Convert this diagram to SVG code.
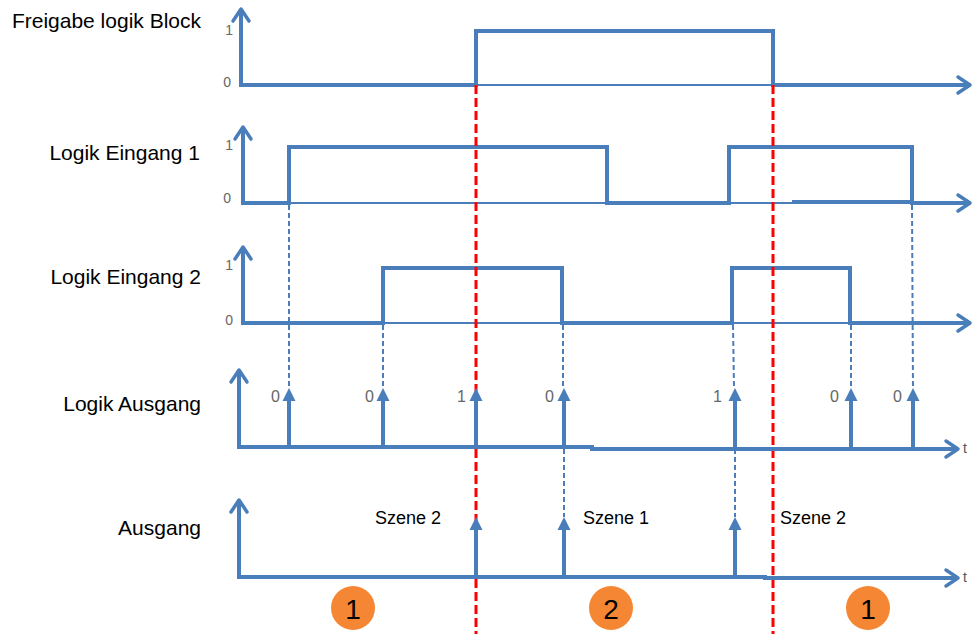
<svg xmlns="http://www.w3.org/2000/svg" width="973" height="634" viewBox="0 0 973 634">
<style>
  .lbl { font-family: "Liberation Sans", Arial, sans-serif; font-size: 21px; fill: #000; text-anchor: end; }
  .dig { font-family: "Liberation Sans", Arial, sans-serif; font-size: 14px; fill: #666; text-anchor: end; }
  .idig { font-family: "Liberation Sans", Arial, sans-serif; font-size: 16px; fill: #666; text-anchor: end; }
  .sz { font-family: "Liberation Sans", Arial, sans-serif; font-size: 18px; fill: #000; }
  .tt { font-family: "Liberation Sans", Arial, sans-serif; font-size: 14px; fill: #555; }
  .num { font-family: "Liberation Sans", Arial, sans-serif; font-size: 28px; fill: #000; text-anchor: middle; }
  .axis { stroke: #4A7EBB; stroke-width: 4; fill: none; marker-end: url(#chev); }
  .sig { stroke: #4A7EBB; stroke-width: 4; fill: none; stroke-linejoin: miter; }
  .thin { stroke: #4A7EBB; stroke-width: 2; fill: none; }
  .imp { stroke: #4A7EBB; stroke-width: 4; fill: none; marker-end: url(#tri); }
  .dash { stroke: #4A7EBB; stroke-width: 2; fill: none; stroke-dasharray: 5 3; }
  .red { stroke: #FF0000; stroke-width: 3; fill: none; stroke-dasharray: 9 4; }
  .circ { fill: #F58634; }
</style>
<defs>
  <marker id="chev" markerUnits="userSpaceOnUse" markerWidth="30" markerHeight="30" refX="0" refY="0" viewBox="-15 -15 30 30" orient="auto" overflow="visible">
    <path d="M-12,-8 L0,0 L-12,8" fill="none" stroke="#4A7EBB" stroke-width="3.5" stroke-linecap="round" stroke-linejoin="round"/>
  </marker>
  <marker id="tri" markerUnits="userSpaceOnUse" markerWidth="30" markerHeight="30" refX="0" refY="0" viewBox="-15 -15 30 30" orient="auto" overflow="visible">
    <path d="M-9,-6.5 L4,0 L-9,6.5 Z" fill="#4A7EBB"/>
  </marker>
</defs>

<g id="row-freigabe">
  <text class="lbl" x="201" y="28">Freigabe logik Block</text>
  <text class="dig" x="233" y="35">1</text>
  <text class="dig" x="231" y="87">0</text>
  <line class="axis" x1="241" y1="87" x2="241" y2="9"/>
  <polyline class="sig" points="241,85 476,85 476,31 773,31 773,85 970,85" marker-end="url(#chev)"/>
  <line class="thin" x1="476" y1="85" x2="773" y2="85"/>
</g>

<g id="row-eingang1">
  <text class="lbl" x="200" y="160">Logik Eingang 1</text>
  <text class="dig" x="233" y="150">1</text>
  <text class="dig" x="231" y="203">0</text>
  <line class="axis" x1="243" y1="205" x2="243" y2="127"/>
  <polyline class="sig" points="243,203 289,203 289,147 607,147 607,203 729,203 729,147 912,147 912,203 970,203" marker-end="url(#chev)"/>
  <line class="thin" x1="289" y1="203" x2="607" y2="203"/>
  <line class="thin" x1="729" y1="203" x2="792" y2="203"/>
  <line class="sig" x1="792" y1="202" x2="912" y2="202"/>
</g>

<g id="row-eingang2">
  <text class="lbl" x="201" y="284">Logik Eingang 2</text>
  <text class="dig" x="233" y="270">1</text>
  <text class="dig" x="233" y="325">0</text>
  <line class="axis" x1="243" y1="325" x2="243" y2="247"/>
  <polyline class="sig" points="243,323 383,323 383,268 562,268 562,323 732,323 732,268 850,268 850,323 970,323" marker-end="url(#chev)"/>
  <line class="thin" x1="383" y1="323" x2="562" y2="323"/>
  <line class="thin" x1="732" y1="323" x2="850" y2="323"/>
</g>

<g id="red-lines">
  <line class="red" x1="476" y1="85" x2="476" y2="634"/>
  <line class="red" x1="773" y1="85" x2="773" y2="634"/>
</g>

<g id="connectors">
  <line class="dash" x1="289" y1="205" x2="289" y2="388"/>
  <line class="dash" x1="383" y1="325" x2="383" y2="388"/>
  <line class="dash" x1="563" y1="325" x2="563" y2="388"/>
  <line class="dash" x1="733" y1="325" x2="734" y2="388"/>
  <line class="dash" x1="851" y1="325" x2="851" y2="388"/>
  <line class="dash" x1="912" y1="205" x2="913" y2="388"/>
  <line class="dash" x1="564" y1="449" x2="564" y2="517"/>
  <line class="dash" x1="735" y1="449" x2="735" y2="517"/>
</g>

<g id="row-logik-ausgang">
  <text class="lbl" x="201" y="411">Logik Ausgang</text>
  <line class="axis" x1="239" y1="449" x2="239" y2="370"/>
  <polyline class="sig" points="239,447 592,447 592,449 958,449" marker-end="url(#chev)"/>
  <text class="tt" x="963" y="453">t</text>
  <line class="imp" x1="289" y1="447" x2="289" y2="392"/>
  <line class="imp" x1="383" y1="447" x2="383" y2="392"/>
  <line class="imp" x1="476" y1="447" x2="476" y2="392"/>
  <line class="imp" x1="564" y1="447" x2="564" y2="392"/>
  <line class="imp" x1="735" y1="449" x2="735" y2="392"/>
  <line class="imp" x1="851" y1="449" x2="851" y2="392"/>
  <line class="imp" x1="913" y1="449" x2="913" y2="392"/>
  <text class="idig" x="280" y="402">0</text>
  <text class="idig" x="374" y="402">0</text>
  <text class="idig" x="466" y="402">1</text>
  <text class="idig" x="554" y="402">0</text>
  <text class="idig" x="722" y="402">1</text>
  <text class="idig" x="839" y="402">0</text>
  <text class="idig" x="902" y="402">0</text>
</g>

<g id="row-ausgang">
  <text class="lbl" x="201" y="535">Ausgang</text>
  <line class="axis" x1="239" y1="579" x2="239" y2="500"/>
  <polyline class="sig" points="239,577 765,577 765,578 958,578" marker-end="url(#chev)"/>
  <text class="tt" x="963" y="582">t</text>
  <line class="imp" x1="476" y1="577" x2="476" y2="521"/>
  <line class="imp" x1="564" y1="577" x2="564" y2="521"/>
  <line class="imp" x1="735" y1="577" x2="735" y2="521"/>
  <text class="sz" x="375" y="524">Szene 2</text>
  <text class="sz" x="583" y="524">Szene 1</text>
  <text class="sz" x="780" y="524">Szene 2</text>
</g>

<g id="phase-1a">
  <circle class="circ" cx="353" cy="608" r="22"/>
  <text class="num" x="353" y="619">1</text>
</g>
<g id="phase-2">
  <circle class="circ" cx="611" cy="608" r="22"/>
  <text class="num" x="611" y="619">2</text>
</g>
<g id="phase-1b">
  <circle class="circ" cx="868" cy="608" r="22"/>
  <text class="num" x="868" y="619">1</text>
</g>
</svg>
